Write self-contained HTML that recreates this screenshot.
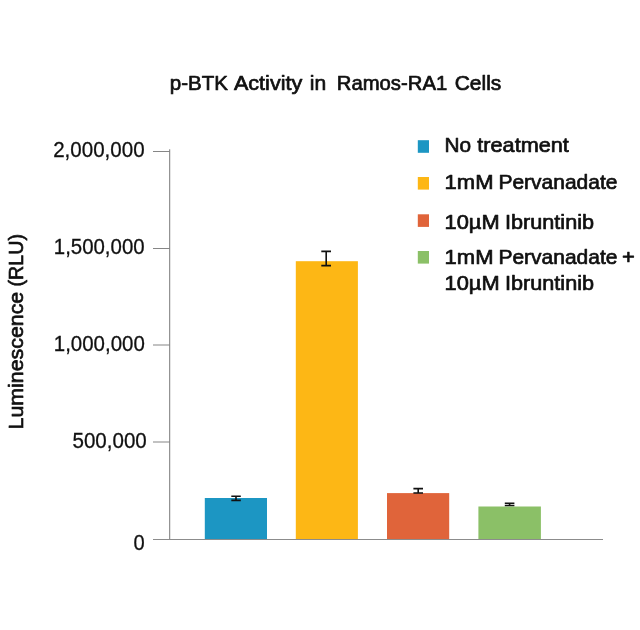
<!DOCTYPE html>
<html>
<head>
<meta charset="utf-8">
<title>p-BTK Activity in Ramos-RA1 Cells</title>
<style>
  html, body { margin: 0; padding: 0; background: #ffffff; }
  body { width: 640px; height: 630px; overflow: hidden; }
  svg { display: block; will-change: transform; }
  text { font-family: "Liberation Sans", sans-serif; fill: #101010; }
  .med { stroke: #101010; stroke-width: 0.7px; stroke-linejoin: round; }
  .title { font-size: 20.8px; }
  .leg { font-size: 21.0px; }
  .ylab { font-size: 22px; stroke: #101010; stroke-width: 0.3px; }
  .ytitle { font-size: 20.8px; }
  .err { stroke: #111111; stroke-width: 1.6; fill: none; }
</style>
</head>
<body>
<svg width="640" height="630" viewBox="0 0 640 630">
  <rect x="0" y="0" width="640" height="630" fill="#ffffff"/>
  <g class="title med">
    <text x="169.8" y="90" textLength="58.2" lengthAdjust="spacingAndGlyphs">p-BTK</text>
    <text x="233.9" y="90" textLength="68.4" lengthAdjust="spacingAndGlyphs">Activity</text>
    <text x="309.8" y="90" textLength="16.4" lengthAdjust="spacingAndGlyphs">in</text>
    <text x="336.8" y="90" textLength="110.4" lengthAdjust="spacingAndGlyphs">Ramos-RA1</text>
    <text x="454.7" y="90" textLength="46.6" lengthAdjust="spacingAndGlyphs">Cells</text>
  </g>

  <rect x="204.8" y="498" width="62.2" height="41" fill="#1c96c3"/>
  <rect x="295.8" y="261.2" width="62.1" height="277.8" fill="#fdb715"/>
  <rect x="387" y="493.1" width="62.2" height="45.9" fill="#e0643a"/>
  <rect x="478.4" y="506.5" width="62.5" height="32.5" fill="#8bc067"/>

  <g fill="#868686">
    <rect x="169" y="149.3" width="1.25" height="390.7" fill="#939393"/>
    <rect x="153" y="539" width="450" height="1" fill="#8c8c8c"/>
    <rect x="153" y="151" width="17" height="1"/>
    <rect x="153" y="248" width="17" height="1"/>
    <rect x="153" y="344.5" width="17" height="1"/>
    <rect x="153" y="441.5" width="17" height="1"/>
  </g>

  <g class="err">
    <path d="M231.3 496.3H240.8M231.3 500.4H240.8M236 496.3V500.4"/>
    <path d="M321.3 251.4H331M321.3 265.6H331M326.2 251.4V265.6"/>
    <path d="M413.4 488.6H423M413.4 493H423M418.2 488.6V493"/>
    <path d="M504.8 503.2H514.4M504.8 505.5H514.4M509.6 503.2V505.5"/>
  </g>
  <g class="ylab">
    <text x="53.2" y="157" textLength="91.4" lengthAdjust="spacingAndGlyphs">2,000,000</text>
    <text x="53.8" y="254" textLength="90.8" lengthAdjust="spacingAndGlyphs">1,500,000</text>
    <text x="53.8" y="351" textLength="91.0" lengthAdjust="spacingAndGlyphs">1,000,000</text>
    <text x="72.5" y="448" textLength="74.3" lengthAdjust="spacingAndGlyphs">500,000</text>
    <text x="133.4" y="550" textLength="11.2" lengthAdjust="spacingAndGlyphs">0</text>
  </g>
  <g class="ytitle med" transform="translate(22.8 429.5) rotate(-90)">
    <text x="0" y="0" textLength="137.7" lengthAdjust="spacingAndGlyphs">Luminescence</text>
    <text x="143.0" y="0" textLength="52.5" lengthAdjust="spacingAndGlyphs">(RLU)</text>
  </g>

  <rect x="417.8" y="140.2" width="11.2" height="12.6" fill="#1c96c3"/>
  <rect x="417.8" y="177" width="11.2" height="12.6" fill="#fdb715"/>
  <rect x="417.8" y="214.3" width="11.2" height="12.6" fill="#e0643a"/>
  <rect x="417.8" y="251" width="11.2" height="12.6" fill="#8bc067"/>
  <g class="leg med">
    <text x="444.4" y="152" textLength="26.6" lengthAdjust="spacingAndGlyphs">No</text>
    <text x="477.3" y="152" textLength="91.6" lengthAdjust="spacingAndGlyphs">treatment</text>
    <text x="444.5" y="189" textLength="49.0" lengthAdjust="spacingAndGlyphs">1mM</text>
    <text x="498.4" y="189" textLength="119" lengthAdjust="spacingAndGlyphs">Pervanadate</text>
    <text x="444.6" y="229" textLength="55.0" lengthAdjust="spacingAndGlyphs">10µM</text>
    <text x="505.0" y="229" textLength="89.0" lengthAdjust="spacingAndGlyphs">Ibruntinib</text>
    <text x="444.5" y="264" textLength="49.0" lengthAdjust="spacingAndGlyphs">1mM</text>
    <text x="498.4" y="264" textLength="119" lengthAdjust="spacingAndGlyphs">Pervanadate</text>
    <text x="622" y="264" textLength="12.8" lengthAdjust="spacingAndGlyphs">+</text>
    <text x="444.6" y="290" textLength="55.0" lengthAdjust="spacingAndGlyphs">10µM</text>
    <text x="505.0" y="290" textLength="89.0" lengthAdjust="spacingAndGlyphs">Ibruntinib</text>
  </g>
</svg>
</body>
</html>
